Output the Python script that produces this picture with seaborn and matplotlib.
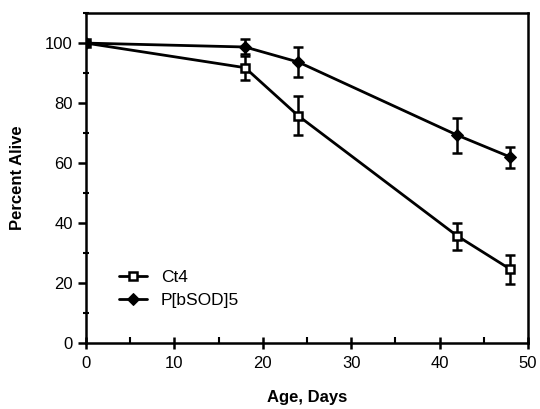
import numpy as np
import pandas as pd
import matplotlib
matplotlib.use("Agg")
import matplotlib.pyplot as plt
import seaborn as sns
from matplotlib.ticker import MultipleLocator

# data
days = [0, 18, 24, 42, 48]
ct4 = [100, 91.8, 75.8, 35.7, 24.6]
ct4_err = [0, 4.0, 6.5, 4.5, 4.8]
sod = [100, 98.7, 93.7, 69.3, 62.0]
sod_err = [0, 2.5, 5.0, 5.8, 3.5]
labels = ["Ct4", "P[bSOD]5"]

df = pd.DataFrame({
    "day": days * 2,
    "alive": ct4 + sod,
    "line": [labels[0]] * len(days) + [labels[1]] * len(days),
})

sns.set_style("ticks", {"text.color": "black", "xtick.color": "black",
                        "ytick.color": "black", "axes.labelcolor": "black",
                        "axes.edgecolor": "black"})
plt.rcParams["font.family"] = ["Liberation Sans", "DejaVu Sans"]

fig = plt.figure(figsize=(5.4, 4.09), dpi=100)
ax = fig.add_axes([0.159, 0.161, 0.819, 0.807])

# error bars first, below the markers
ax.errorbar(days, ct4, yerr=ct4_err, fmt="none", ecolor="black", elinewidth=1.8, capsize=3.5, capthick=1.8, zorder=2)
ax.errorbar(days, sod, yerr=sod_err, fmt="none", ecolor="black", elinewidth=1.8, capsize=3.5, capthick=1.8, zorder=2)

sns.lineplot(data=df, x="day", y="alive", hue="line", style="line",
             markers={"Ct4": "s", "P[bSOD]5": "D"}, dashes=False,
             palette={"Ct4": "black", "P[bSOD]5": "black"},
             linewidth=2, markersize=7, ax=ax, zorder=3)

def fix_markers(lines):
    for ln in lines:
        ln.set_markeredgecolor("black")
        if ln.get_marker() == "s":
            ln.set_markerfacecolor("white")
            ln.set_markeredgewidth(1.8)
            ln.set_markersize(5.5)
        elif ln.get_marker() == "D":
            ln.set_markerfacecolor("black")
            ln.set_markersize(6)

fix_markers(ax.get_lines())

ax.set_xlim(0, 50)
ax.set_ylim(0, 110)
ax.xaxis.set_major_locator(MultipleLocator(10))
ax.xaxis.set_minor_locator(MultipleLocator(5))
ax.yaxis.set_major_locator(MultipleLocator(20))
ax.yaxis.set_minor_locator(MultipleLocator(10))
ax.tick_params(axis="x", which="major", direction="inout", length=8, width=1.8, labelsize=12, pad=5)
ax.tick_params(axis="x", which="minor", direction="in", length=4, width=1.5)
ax.tick_params(axis="y", which="major", direction="out", length=6, width=1.8, labelsize=12)
ax.tick_params(axis="y", which="minor", direction="inout", length=4, width=1.5)
for s in ax.spines.values():
    s.set_linewidth(1.8)
    s.set_visible(True)

ax.set_xlabel("Age, Days", fontsize=12, fontweight="bold", labelpad=14)
ax.set_ylabel("Percent Alive", fontsize=12, fontweight="bold", labelpad=14)

handles, lbls = ax.get_legend_handles_labels()
fix_markers(handles)
ax.legend(handles, lbls, loc="lower left", bbox_to_anchor=(0.04, 0.06), frameon=False,
          fontsize=12.5, handlelength=1.6, handletextpad=0.8, labelspacing=0.45)

fig.savefig("out.png", dpi=100)
